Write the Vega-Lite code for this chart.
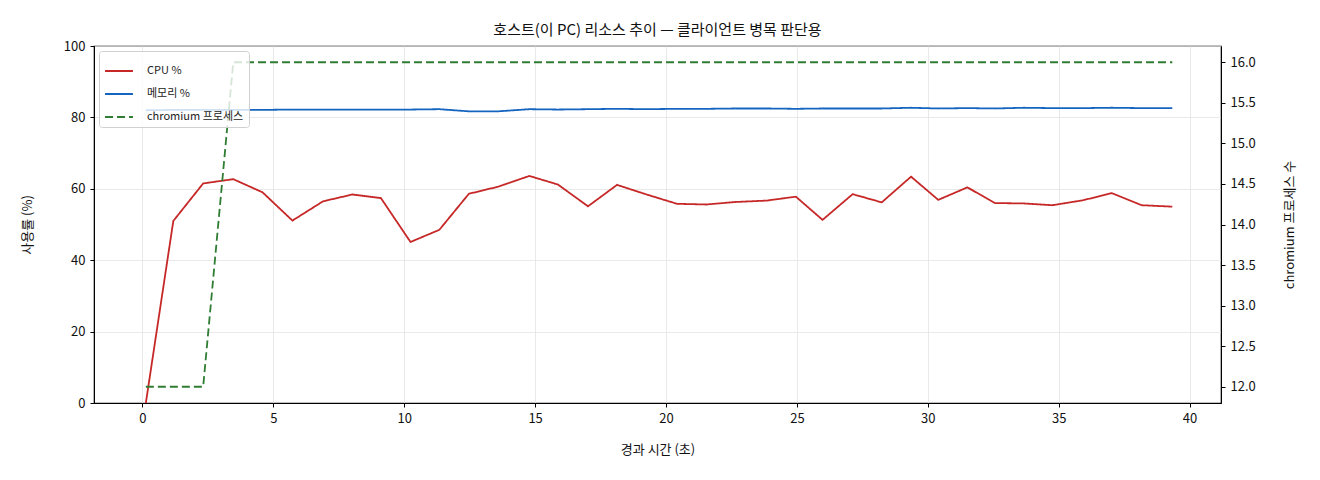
{
  "$schema": "https://vega.github.io/schema/vega-lite/v6.json",
  "width": 1127,
  "height": 357,
  "autosize": {"type": "none"},
  "padding": {"left": 94, "top": 46, "right": 99, "bottom": 77},
  "title": {"text": "호스트(이 PC) 리소스 추이 — 클라이언트 병목 판단용", "fontSize": 15, "fontWeight": "normal", "offset": 2, "color": "#111111"},
  "config": {
    "font": "Noto Sans CJK KR",
    "view": {"stroke": "#000000", "strokeWidth": 1.2},
    "axis": {
      "domainColor": "#000000", "tickColor": "#000000", "tickSize": 4,
      "labelFontSize": 13, "labelColor": "#111111", "titleFontSize": 13,
      "titleFontWeight": "normal", "titleColor": "#111111",
      "gridColor": "#e3e3e3", "gridWidth": 0.8
    },
    "legend": {"labelFontSize": 11, "labelColor": "#222222"}
  },
  "data": {
    "values": [
      {"t": 0.13, "s": "CPU %", "v": 0}, {"t": 1.18, "s": "CPU %", "v": 51.0}, {"t": 2.32, "s": "CPU %", "v": 61.5},
      {"t": 3.47, "s": "CPU %", "v": 62.7}, {"t": 4.59, "s": "CPU %", "v": 59.0}, {"t": 5.73, "s": "CPU %", "v": 51.1},
      {"t": 6.90, "s": "CPU %", "v": 56.5}, {"t": 8.02, "s": "CPU %", "v": 58.4}, {"t": 9.11, "s": "CPU %", "v": 57.4},
      {"t": 10.24, "s": "CPU %", "v": 45.1}, {"t": 11.34, "s": "CPU %", "v": 48.5}, {"t": 12.47, "s": "CPU %", "v": 58.6},
      {"t": 13.59, "s": "CPU %", "v": 60.6}, {"t": 14.78, "s": "CPU %", "v": 63.6}, {"t": 15.87, "s": "CPU %", "v": 61.2},
      {"t": 17.02, "s": "CPU %", "v": 55.1}, {"t": 18.13, "s": "CPU %", "v": 61.1}, {"t": 19.26, "s": "CPU %", "v": 58.4},
      {"t": 20.42, "s": "CPU %", "v": 55.8}, {"t": 21.53, "s": "CPU %", "v": 55.6}, {"t": 22.64, "s": "CPU %", "v": 56.3},
      {"t": 23.85, "s": "CPU %", "v": 56.7}, {"t": 24.96, "s": "CPU %", "v": 57.8}, {"t": 25.98, "s": "CPU %", "v": 51.3},
      {"t": 27.13, "s": "CPU %", "v": 58.5}, {"t": 28.24, "s": "CPU %", "v": 56.2}, {"t": 29.36, "s": "CPU %", "v": 63.4},
      {"t": 30.40, "s": "CPU %", "v": 56.9}, {"t": 31.51, "s": "CPU %", "v": 60.4}, {"t": 32.57, "s": "CPU %", "v": 56.0},
      {"t": 33.68, "s": "CPU %", "v": 55.9}, {"t": 34.76, "s": "CPU %", "v": 55.4}, {"t": 35.94, "s": "CPU %", "v": 56.8},
      {"t": 37.02, "s": "CPU %", "v": 58.8}, {"t": 38.17, "s": "CPU %", "v": 55.4}, {"t": 39.34, "s": "CPU %", "v": 55.0},

      {"t": 0.13, "s": "메모리 %", "v": 82.0}, {"t": 1.18, "s": "메모리 %", "v": 82.1}, {"t": 2.32, "s": "메모리 %", "v": 82.1},
      {"t": 3.47, "s": "메모리 %", "v": 82.1}, {"t": 4.59, "s": "메모리 %", "v": 82.1}, {"t": 5.73, "s": "메모리 %", "v": 82.2},
      {"t": 6.90, "s": "메모리 %", "v": 82.2}, {"t": 8.02, "s": "메모리 %", "v": 82.2}, {"t": 9.11, "s": "메모리 %", "v": 82.2},
      {"t": 10.24, "s": "메모리 %", "v": 82.2}, {"t": 11.34, "s": "메모리 %", "v": 82.3}, {"t": 12.47, "s": "메모리 %", "v": 81.7},
      {"t": 13.59, "s": "메모리 %", "v": 81.7}, {"t": 14.78, "s": "메모리 %", "v": 82.3}, {"t": 15.87, "s": "메모리 %", "v": 82.2},
      {"t": 17.02, "s": "메모리 %", "v": 82.3}, {"t": 18.13, "s": "메모리 %", "v": 82.4}, {"t": 19.26, "s": "메모리 %", "v": 82.3},
      {"t": 20.42, "s": "메모리 %", "v": 82.4}, {"t": 21.53, "s": "메모리 %", "v": 82.4}, {"t": 22.64, "s": "메모리 %", "v": 82.5},
      {"t": 23.85, "s": "메모리 %", "v": 82.5}, {"t": 24.96, "s": "메모리 %", "v": 82.4}, {"t": 25.98, "s": "메모리 %", "v": 82.5},
      {"t": 27.13, "s": "메모리 %", "v": 82.5}, {"t": 28.24, "s": "메모리 %", "v": 82.5}, {"t": 29.36, "s": "메모리 %", "v": 82.7},
      {"t": 30.40, "s": "메모리 %", "v": 82.5}, {"t": 31.51, "s": "메모리 %", "v": 82.6}, {"t": 32.57, "s": "메모리 %", "v": 82.5},
      {"t": 33.68, "s": "메모리 %", "v": 82.7}, {"t": 34.76, "s": "메모리 %", "v": 82.6}, {"t": 35.94, "s": "메모리 %", "v": 82.6},
      {"t": 37.02, "s": "메모리 %", "v": 82.7}, {"t": 38.17, "s": "메모리 %", "v": 82.6}, {"t": 39.34, "s": "메모리 %", "v": 82.6},

      {"t": 0.13, "s": "chromium 프로세스", "v": 12}, {"t": 1.18, "s": "chromium 프로세스", "v": 12}, {"t": 2.32, "s": "chromium 프로세스", "v": 12},
      {"t": 3.47, "s": "chromium 프로세스", "v": 16}, {"t": 4.59, "s": "chromium 프로세스", "v": 16}, {"t": 5.73, "s": "chromium 프로세스", "v": 16},
      {"t": 6.90, "s": "chromium 프로세스", "v": 16}, {"t": 8.02, "s": "chromium 프로세스", "v": 16}, {"t": 9.11, "s": "chromium 프로세스", "v": 16},
      {"t": 10.24, "s": "chromium 프로세스", "v": 16}, {"t": 11.34, "s": "chromium 프로세스", "v": 16}, {"t": 12.47, "s": "chromium 프로세스", "v": 16},
      {"t": 13.59, "s": "chromium 프로세스", "v": 16}, {"t": 14.78, "s": "chromium 프로세스", "v": 16}, {"t": 15.87, "s": "chromium 프로세스", "v": 16},
      {"t": 17.02, "s": "chromium 프로세스", "v": 16}, {"t": 18.13, "s": "chromium 프로세스", "v": 16}, {"t": 19.26, "s": "chromium 프로세스", "v": 16},
      {"t": 20.42, "s": "chromium 프로세스", "v": 16}, {"t": 21.53, "s": "chromium 프로세스", "v": 16}, {"t": 22.64, "s": "chromium 프로세스", "v": 16},
      {"t": 23.85, "s": "chromium 프로세스", "v": 16}, {"t": 24.96, "s": "chromium 프로세스", "v": 16}, {"t": 25.98, "s": "chromium 프로세스", "v": 16},
      {"t": 27.13, "s": "chromium 프로세스", "v": 16}, {"t": 28.24, "s": "chromium 프로세스", "v": 16}, {"t": 29.36, "s": "chromium 프로세스", "v": 16},
      {"t": 30.40, "s": "chromium 프로세스", "v": 16}, {"t": 31.51, "s": "chromium 프로세스", "v": 16}, {"t": 32.57, "s": "chromium 프로세스", "v": 16},
      {"t": 33.68, "s": "chromium 프로세스", "v": 16}, {"t": 34.76, "s": "chromium 프로세스", "v": 16}, {"t": 35.94, "s": "chromium 프로세스", "v": 16},
      {"t": 37.02, "s": "chromium 프로세스", "v": 16}, {"t": 38.17, "s": "chromium 프로세스", "v": 16}, {"t": 39.34, "s": "chromium 프로세스", "v": 16}
    ]
  },
  "encoding": {
    "x": {
      "field": "t", "type": "quantitative", "title": "경과 시간 (초)",
      "scale": {"domain": [-1.85, 41.2], "nice": false, "zero": false},
      "axis": {"values": [0, 5, 10, 15, 20, 25, 30, 35, 40], "labelPadding": 5, "titlePadding": 18, "grid": true}
    },
    "color": {
      "field": "s", "type": "nominal", "title": null,
      "scale": {"domain": ["CPU %", "메모리 %", "chromium 프로세스"], "range": ["#c62828", "#1565c0", "#2e7d32"]},
      "legend": {
        "orient": "none", "legendX": 5, "legendY": 5, "symbolType": "stroke", "symbolSize": 780,
        "symbolStrokeWidth": 2, "rowPadding": 3, "padding": 5, "labelOffset": 13,
        "fillColor": "rgba(255,255,255,0.8)", "strokeColor": "#d0d0d0", "cornerRadius": 3
      }
    },
    "strokeDash": {
      "field": "s", "type": "nominal", "title": null,
      "scale": {"domain": ["CPU %", "메모리 %", "chromium 프로세스"], "range": [[1, 0], [1, 0], [8, 4]]}
    }
  },
  "layer": [
    {
      "transform": [{"filter": "datum.s !== 'chromium 프로세스'"}],
      "mark": {"type": "line", "strokeWidth": 1.8},
      "encoding": {
        "y": {
          "field": "v", "type": "quantitative", "title": "사용률 (%)",
          "scale": {"domain": [0, 100], "nice": false},
          "axis": {"values": [0, 20, 40, 60, 80, 100], "grid": true, "titlePadding": 29, "labelPadding": 5}
        }
      }
    },
    {
      "transform": [{"filter": "datum.s === 'chromium 프로세스'"}],
      "mark": {"type": "line", "strokeWidth": 1.8},
      "encoding": {
        "y": {
          "field": "v", "type": "quantitative", "title": "chromium 프로세스 수",
          "scale": {"domain": [11.8, 16.2], "nice": false, "zero": false},
          "axis": {
            "orient": "right", "values": [12, 12.5, 13, 13.5, 14, 14.5, 15, 15.5, 16], "format": ".1f",
            "grid": false, "titleAngle": 270, "titleBaseline": "top", "titlePadding": 28, "labelPadding": 5
          }
        }
      }
    }
  ],
  "resolve": {"scale": {"y": "independent"}}
}
